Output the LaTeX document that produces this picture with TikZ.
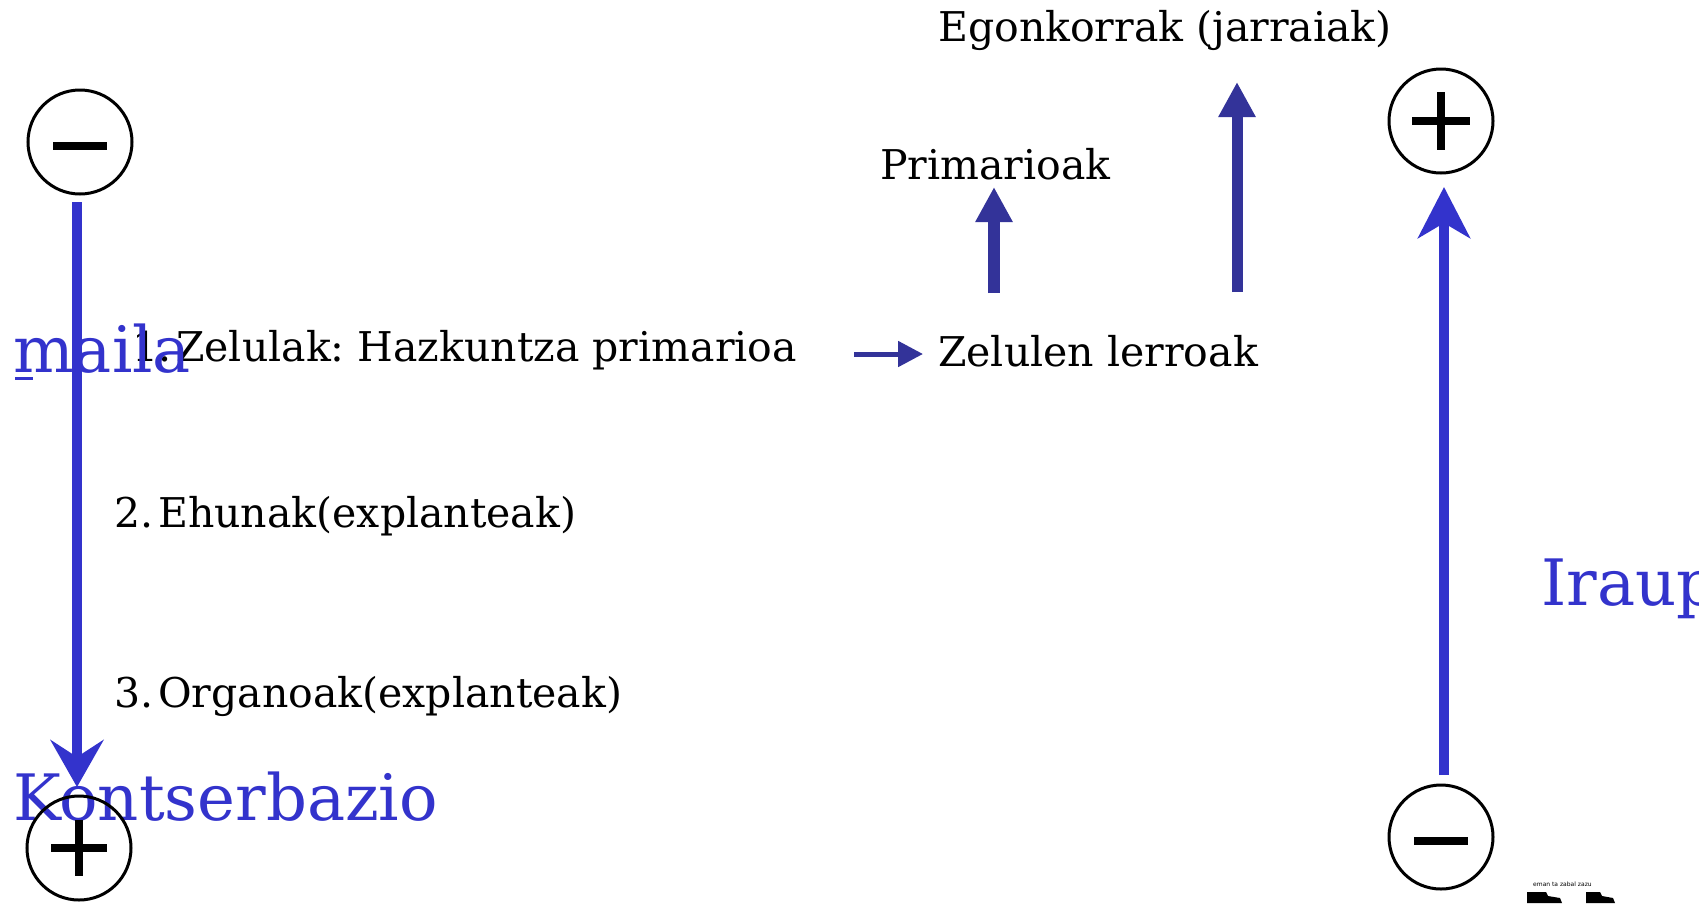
\documentclass[tikz,border=0pt]{standalone}
\usepackage{fontspec}
\setmainfont{DejaVu Serif}
\newfontfamily\smallsans{DejaVu Sans}
\usetikzlibrary{arrows.meta}
\definecolor{bigblue}{RGB}{51,51,204}
\definecolor{darkblue}{RGB}{51,51,153}
\frenchspacing
\tikzset{
  signcircle/.style={circle, draw=black, line width=3pt, minimum size=104pt, inner sep=0pt},
  signbar/.style={line width=8pt, black},
  txt/.style={anchor=base west, inner sep=0pt, font=\fontsize{41}{49}\selectfont\frenchspacing, text=black},
  bigtext/.style={anchor=base west, inner sep=0pt, font=\fontsize{64}{76}\selectfont, text=bigblue},
  scalearrow/.style={bigblue, line width=10pt},
  steparrow/.style={darkblue, line width=12pt, -{Triangle[length=35pt,width=35pt]}},
}
\begin{document}
\begin{tikzpicture}[x=1pt,y=-1pt]
\useasboundingbox (0,0) rectangle (1699,903);
\fill[white] (0,0) rectangle (1699,903);
\clip (0,0) rectangle (1699,903);

% black texts
\node[txt] (egon) at (938,41) {Egonkorrak (jarraiak)};
\node[txt] (prim) at (880,179) {Primarioak};
\node[txt] (lerro) at (938,366) {Zelulen lerroak};
\node[txt] (zel) at (132,361) {1.\hspace{0.12em}Zelulak: Hazkuntza primarioa};
\node[txt] (ehun) at (114,527) {2.\hspace{0.12em}Ehunak(explanteak)};
\node[txt] (organ) at (114,707) {3.\hspace{0.12em}Organoak(explanteak)};

% blue texts
\node[bigtext] (maila) at (13,372) {maila};
\draw[bigblue, line width=3pt] ([shift={(2,6)}]maila.base west) -- ([shift={(20,6)}]maila.base west);
\node[bigtext] (kont) at (13,820) {Kontserbazio};
\node[bigtext] (iraup) at (1541,605) {Iraup};

% circles
\node[signcircle] (lminus) at (80,142) {};
\draw[signbar] ([shift={(-27,4)}]lminus.center) -- ([shift={(27,4)}]lminus.center);
\node[signcircle] (lplus) at (79,848) {};
\draw[signbar] ([shift={(-28,0)}]lplus.center) -- ([shift={(28,0)}]lplus.center);
\draw[signbar] ([shift={(0,-28)}]lplus.center) -- ([shift={(0,28)}]lplus.center);
\node[signcircle] (rplus) at (1441,121) {};
\draw[signbar] ([shift={(-29,0)}]rplus.center) -- ([shift={(29,0)}]rplus.center);
\draw[signbar] ([shift={(0,-29)}]rplus.center) -- ([shift={(0,29)}]rplus.center);
\node[signcircle] (rminus) at (1441,837) {};
\draw[signbar] ([shift={(-27,4)}]rminus.center) -- ([shift={(27,4)}]rminus.center);

% big scale arrows
\coordinate (la1) at (77,202);
\coordinate (la2) at (77,787);
\draw[scalearrow, -{Stealth[length=47pt,width=53pt,inset=17pt]}] (la1) -- (la2);
\coordinate (ra1) at (1444,775);
\coordinate (ra2) at (1444,187);
\draw[scalearrow, -{Stealth[length=51pt,width=52pt,inset=15pt]}] (ra1) -- (ra2);

% middle arrows
\coordinate (h1) at (854,354);
\coordinate (h2) at (923,354);
\draw[darkblue, line width=5pt, -{Triangle[length=25pt,width=25pt]}] (h1) -- (h2);
\coordinate (p1) at (994,293);
\coordinate (p2) at (994,187);
\draw[steparrow] (p1) -- (p2);
\coordinate (e1) at (1237,292);
\coordinate (e2) at (1237,82);
\draw[steparrow, line width=11pt] (e1) -- (e2);

% logo fragment bottom right
\node[anchor=base west, inner sep=0pt, font=\smallsans\fontsize{6}{7}\selectfont] (motto) at (1533,886) {eman ta zabal zazu};
\fill[black] (1527,903) -- (1527,892) -- (1546,892) -- (1548,896) -- (1560,898) -- (1562,903) -- cycle;
\fill[black] (1586,903) -- (1586,892) -- (1600,892) -- (1602,896) -- (1613,898) -- (1615,903) -- cycle;
\end{tikzpicture}
\end{document}
